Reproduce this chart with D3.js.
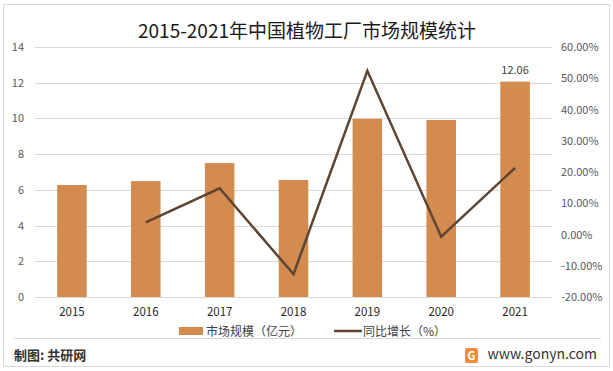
<!DOCTYPE html>
<meta charset="utf-8">
<script src="https://d3js.org/d3.v7.min.js"></script>
<style>
  body { margin: 0; background: #fff; }
  text { font-family: "Noto Sans CJK SC", "Noto Sans", sans-serif; }
</style>
<div id="chart"></div>
<script>

// data
var years = ["2015", "2016", "2017", "2018", "2019", "2020", "2021"];
var marketSize = [6.27, 6.49, 7.5, 6.55, 9.98, 9.91, 12.06];   // 亿元
var growth = [null, 3.9, 14.8, -12.7, 52.4, -0.7, 21.3];        // %
var leftTicks = [0, 2, 4, 6, 8, 10, 12, 14];
var rightTicks = [-20, -10, 0, 10, 20, 30, 40, 50, 60];

var width = 613, height = 371;
var plot = {left: 35, right: 552, top: 47, bottom: 297};

var svg = d3.select("#chart")
  .append("svg")
  .attr("width", width)
  .attr("height", height);

// outer frame
svg.append("rect")
  .attr("x", 3.5).attr("y", 4.5)
  .attr("width", 606).attr("height", 362)
  .attr("fill", "#fff")
  .attr("stroke", "#d9d9d9");

// scales
var x = d3.scaleBand()
  .domain(years)
  .range([plot.left, plot.right])
  .paddingInner(0.6)
  .paddingOuter(0.3);

var yLeft = d3.scaleLinear().domain([0, 14]).range([plot.bottom, plot.top]);
var yRight = d3.scaleLinear().domain([-20, 60]).range([plot.bottom, plot.top]);

// gridlines
svg.append("g")
  .selectAll("line")
  .data(leftTicks)
  .enter()
  .append("line")
  .attr("x1", plot.left).attr("x2", plot.right)
  .attr("y1", d => Math.round(yLeft(d)) + 0.5)
  .attr("y2", d => Math.round(yLeft(d)) + 0.5)
  .attr("stroke", "#d9d9d9");

// left axis
var leftAxis = svg.append("g")
  .attr("transform", "translate(24,0)")
  .call(d3.axisLeft(yLeft).tickValues(leftTicks).tickSize(0).tickPadding(0));
leftAxis.select(".domain").remove();
leftAxis.selectAll("text")
  .attr("fill", "#595959")
  .style("font-size", "11px");

// right axis
var rightAxis = svg.append("g")
  .attr("transform", "translate(561,0)")
  .call(d3.axisRight(yRight).tickValues(rightTicks).tickSize(0).tickPadding(0)
    .tickFormat(d => d.toFixed(2) + "%"));
rightAxis.select(".domain").remove();
rightAxis.selectAll("text")
  .attr("fill", "#595959")
  .style("font-size", "11px");

// bottom axis labels
var bottomAxis = svg.append("g")
  .attr("transform", "translate(0," + (plot.bottom + 11) + ")")
  .call(d3.axisBottom(x).tickSize(0).tickPadding(0));
bottomAxis.select(".domain").remove();
bottomAxis.selectAll("text")
  .attr("fill", "#262626")
  .style("font-size", "11.5px");

// bars
var barColor = "#d38b4f";
svg.append("g")
  .selectAll("rect")
  .data(marketSize)
  .enter()
  .append("rect")
  .attr("x", (d, i) => x(years[i]))
  .attr("width", x.bandwidth())
  .attr("y", d => yLeft(d))
  .attr("height", d => yLeft(0) - yLeft(d))
  .attr("fill", barColor);

// value label on last bar
var last = marketSize.length - 1;
svg.append("text")
  .attr("x", x(years[last]) + x.bandwidth() / 2)
  .attr("y", yLeft(marketSize[last]) - 8)
  .attr("text-anchor", "middle")
  .attr("fill", "#404040")
  .style("font-size", "11px")
  .text(marketSize[last].toFixed(2));

// growth line
var lineColor = "#5e4532";
var line = d3.line()
  .defined(d => d.v != null)
  .x(d => x(d.year) + x.bandwidth() / 2)
  .y(d => yRight(d.v));

svg.append("path")
  .datum(years.map((y, i) => ({year: y, v: growth[i]})))
  .attr("d", line)
  .attr("fill", "none")
  .attr("stroke", lineColor)
  .attr("stroke-width", 2.5)
  .attr("stroke-linejoin", "miter");

// title
svg.append("text")
  .attr("x", 307)
  .attr("y", 38)
  .attr("text-anchor", "middle")
  .attr("fill", "#1a1a1a")
  .style("font-size", "19px")
  .text("2015-2021年中国植物工厂市场规模统计");

// legend
var legend = svg.append("g").attr("transform", "translate(0,331)");
legend.append("rect")
  .attr("x", 179).attr("y", -4)
  .attr("width", 24).attr("height", 8)
  .attr("fill", barColor);
legend.append("text")
  .attr("x", 206).attr("y", 4.5)
  .attr("fill", "#404040")
  .style("font-size", "12px")
  .text("市场规模（亿元）");
legend.append("line")
  .attr("x1", 334).attr("x2", 362)
  .attr("y1", 0).attr("y2", 0)
  .attr("stroke", lineColor)
  .attr("stroke-width", 2.5);
legend.append("text")
  .attr("x", 363).attr("y", 4.5)
  .attr("fill", "#404040")
  .style("font-size", "12px")
  .text("同比增长（%）");

// footer
svg.append("line")
  .attr("x1", 14).attr("x2", 601)
  .attr("y1", 338.5).attr("y2", 338.5)
  .attr("stroke", "#d9d9d9");

svg.append("text")
  .attr("x", 14).attr("y", 360)
  .attr("fill", "#333")
  .style("font-size", "13px")
  .style("font-weight", "bold")
  .text("制图: 共研网");

// small orange logo
var logo = svg.append("g").attr("transform", "translate(465,348)");
logo.append("rect")
  .attr("width", 13).attr("height", 15).attr("rx", 2)
  .attr("fill", "#f28a3a");
logo.append("text")
  .attr("x", 6.5).attr("y", 12)
  .attr("text-anchor", "middle")
  .attr("fill", "#fff")
  .style("font-size", "11px")
  .style("font-weight", "bold")
  .text("G");

svg.append("text")
  .attr("x", 597).attr("y", 359)
  .attr("text-anchor", "end")
  .attr("fill", "#333")
  .style("font-size", "14px")
  .text("www.gonyn.com");

</script>
